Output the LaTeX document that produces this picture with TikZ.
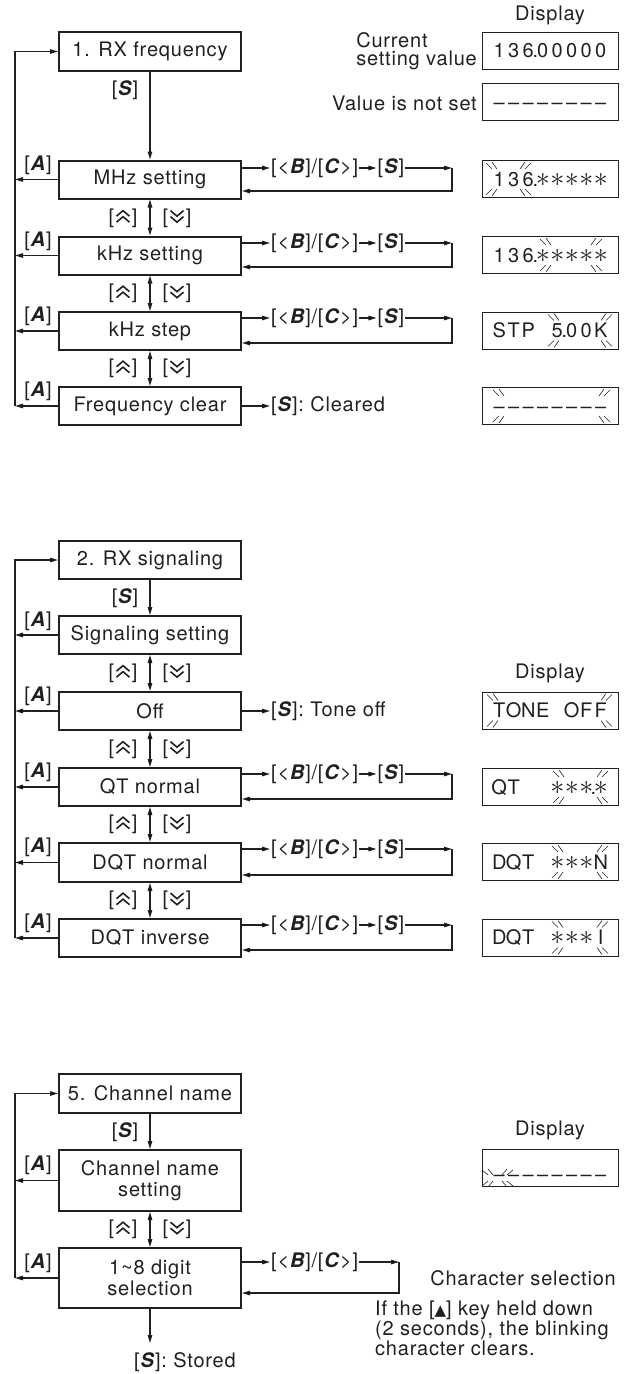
\documentclass[tikz,border=0pt]{standalone}
\usepackage{fontspec}
\setmainfont{TeX Gyre Heros}[LetterSpace=4]
\newfontfamily\symfont{DejaVu Sans}
\usetikzlibrary{arrows.meta}
\definecolor{ink}{RGB}{35,31,32}
\newcommand\K[1]{\textbf{\textit{#1}}}
\newcommand\cl[1]{\makebox[14.5pt]{#1}}
\newcommand\dt{\makebox[0pt]{.}}
\newcommand\sk{\cl{\scalebox{1.35}{$\ast$}}}
\newcommand\dsh{\cl{\textendash}}
\newcommand\chevu{\tikz[baseline=-1pt,x=1pt,y=1pt]\draw[ink,line width=1.6pt] (0,0)--(6.5,5.5)--(13,0) (0,6)--(6.5,11.5)--(13,6);}
\newcommand\chevd{\tikz[baseline=-1pt,x=1pt,y=1pt]\draw[ink,line width=1.6pt] (0,11.5)--(6.5,6)--(13,11.5) (0,5.5)--(6.5,0)--(13,5.5);}
\newcommand\upk{[\kern1.5pt\chevu\kern1.5pt]}
\newcommand\dnk{[\kern1.5pt\chevd\kern1.5pt]}
% blink marks: xl xr cy inner outer
\newcommand\blinkm[5]{%
  \draw[ink,line width=0.6pt]
   (#1,#3-#5)--(#1+6,#3-#4) (#1+6,#3-#5-1)--(#1+11,#3-#4)
   (#2-11,#3-#4)--(#2-6,#3-#5-1) (#2-6,#3-#4)--(#2,#3-#5)
   (#1,#3+#5)--(#1+6,#3+#4) (#1+6,#3+#5+1)--(#1+11,#3+#4)
   (#2-11,#3+#4)--(#2-6,#3+#5+1) (#2-6,#3+#4)--(#2,#3+#5);}
\tikzset{
  fbox/.style={draw=ink, line width=2pt, minimum width=182pt, minimum height=38pt, inner sep=0pt, align=center},
  dbox/.style={draw=ink, line width=0.9pt, minimum width=136pt, minimum height=37pt, inner sep=0pt, text height=14pt, text depth=0pt},
  lbl/.style={inner sep=1pt},
  arr/.style={draw=ink, line width=1.1pt, -{Triangle[length=8pt,width=4.5pt]}},
  darr/.style={draw=ink, line width=1.1pt, {Triangle[length=8pt,width=4.5pt]}-{Triangle[length=8pt,width=4.5pt]}},
}
% B/C row: node name, ytop, ybot
\newcommand\bcrow[3]{%
  \node[lbl,anchor=west] (bc#1) at (270,#2) {[<\K{B}]/[\K{C}>]};
  \node[lbl,anchor=west] (bs#1) at ([xshift=17pt]bc#1.east) {[\K{S}]};
  \coordinate (ct#1) at (452,#2);
  \coordinate (cb#1) at (452,#3);
  \draw[arr] (#1.east |- bc#1.west) -- (bc#1.west);
  \draw[arr] (bc#1.east) -- (bs#1.west);
  \draw[arr] (bs#1.east) -- (ct#1);
  \draw[arr] (ct#1) -- (cb#1) -- (#1.east |- cb#1);}
\begin{document}
\begin{tikzpicture}[x=1pt,y=-1pt,font=\fontsize{20}{21}\selectfont,text=ink]
\useasboundingbox (0,0) rectangle (633,1374);

%================ Section 1
\node[fbox,minimum height=39pt] (n1) at (150,51.5) {1. RX frequency};
\node[fbox] (n2) at (150,179.5) {MHz setting};
\node[fbox] (n3) at (150,255.5) {kHz setting};
\node[fbox] (n4) at (150,331) {kHz step};
\node[fbox] (n5) at (150,406) {Frequency clear};
\coordinate (L1) at (15,406);
\draw[arr] (L1) -- (L1 |- n1.west) -- (n1.west);
\foreach \n in {n2,n3,n4,n5} \draw[arr] (\n.west) -- (\n.west -| L1);
\node[lbl] (s1) at (125,90) {[\K{S}]};
\draw[arr] (n1.south) -- (n2.north);
\node[lbl] (a12) at (38,165) {[\K{A}]};
\node[lbl] (a13) at (38,241) {[\K{A}]};
\node[lbl] (a14) at (38,316) {[\K{A}]};
\node[lbl] (a15) at (38,391) {[\K{A}]};
\draw[darr] (n2.south) -- (n3.north);
\draw[darr] (n3.south) -- (n4.north);
\draw[darr] (n4.south) -- (n5.north);
\node[lbl] (u23) at (123,218) {\upk}; \node[lbl] (v23) at (177,218) {\dnk};
\node[lbl] (u34) at (123,293.5) {\upk}; \node[lbl] (v34) at (177,293.5) {\dnk};
\node[lbl] (u45) at (123,368.5) {\upk}; \node[lbl] (v45) at (177,368.5) {\dnk};
\bcrow{n2}{168}{191}
\bcrow{n3}{243}{267}
\bcrow{n4}{318}{343}
\node[lbl,anchor=west] (clr) at (270,406) {[\K{S}]: Cleared};
\draw[arr] (n5.east) -- (clr.west);

\node[lbl] (disp1) at (550,15) {Display};
\node[dbox] (d0) at (550,50.5) {\cl{1}\cl{3}\cl{6}\dt\cl{0}\cl{0}\cl{0}\cl{0}\cl{0}};
\node[lbl,anchor=east,align=left,font=\fontsize{20}{18}\selectfont] (cur) at (478,51.5) {Current\\setting value};
\node[dbox] (d1) at (550,102) {\dsh\dsh\dsh\dsh\dsh\dsh\dsh\dsh};
\node[lbl,anchor=east] (vns) at (478,103) {Value is not set};
\node[dbox] (d2) at (550,179) {\cl{1}\cl{3}\cl{6}\dt\sk\sk\sk\sk\sk};
\blinkm{486}{531}{179}{10}{16}
\node[dbox] (d3) at (550,255) {\cl{1}\cl{3}\cl{6}\dt\sk\sk\sk\sk\sk};
\blinkm{540}{602}{255}{10}{16}
\node[dbox] (d4) at (550,330.5) {\cl{S}\cl{T}\cl{P}\cl{}\cl{5}\dt\cl{0}\cl{0}\cl{K}};
\blinkm{548}{612}{330.5}{10}{16}
\node[dbox] (d5) at (550,406) {\dsh\dsh\dsh\dsh\dsh\dsh\dsh\dsh};
\blinkm{493}{610}{406}{10}{16}

%================ Section 2
\node[fbox] (m1) at (150,560) {2. RX signaling};
\node[fbox] (m2) at (150,635) {Signaling setting};
\node[fbox] (m3) at (150,711) {Off};
\node[fbox] (m4) at (150,787) {QT normal};
\node[fbox,minimum height=39pt] (m5) at (150,862.5) {DQT normal};
\node[fbox] (m6) at (150,938) {DQT inverse};
\coordinate (L2) at (15,938);
\draw[arr] (L2) -- (L2 |- m1.west) -- (m1.west);
\foreach \n in {m2,m3,m4,m5,m6} \draw[arr] (\n.west) -- (\n.west -| L2);
\node[lbl] (s2) at (125,598) {[\K{S}]};
\draw[arr] (m1.south) -- (m2.north);
\node[lbl] (a22) at (38,621) {[\K{A}]};
\node[lbl] (a23) at (38,696) {[\K{A}]};
\node[lbl] (a24) at (38,772) {[\K{A}]};
\node[lbl] (a25) at (38,847) {[\K{A}]};
\node[lbl] (a26) at (38,923) {[\K{A}]};
\draw[darr] (m2.south) -- (m3.north);
\draw[darr] (m3.south) -- (m4.north);
\draw[darr] (m4.south) -- (m5.north);
\draw[darr] (m5.south) -- (m6.north);
\node[lbl] (u2a) at (123,673) {\upk}; \node[lbl] (v2a) at (177,673) {\dnk};
\node[lbl] (u2b) at (123,749) {\upk}; \node[lbl] (v2b) at (177,749) {\dnk};
\node[lbl] (u2c) at (123,824.5) {\upk}; \node[lbl] (v2c) at (177,824.5) {\dnk};
\node[lbl] (u2d) at (123,900.5) {\upk}; \node[lbl] (v2d) at (177,900.5) {\dnk};
\node[lbl,anchor=west] (toff) at (270,711) {[\K{S}]: Tone off};
\draw[arr] (m3.east) -- (toff.west);
\bcrow{m4}{774}{799}
\bcrow{m5}{849}{875}
\bcrow{m6}{925}{950}

\node[lbl] (disp2) at (550,673) {Display};
\node[dbox] (dT) at (550,710.5) {\cl{T}\cl{O}\cl{N}\cl{E}\cl{}\cl{O}\cl{F}\cl{F}};
\blinkm{487}{612}{710.5}{10}{16}
\node[dbox] (dQ) at (550,787) {\cl{Q}\cl{T}\cl{}\cl{}\sk\sk\sk\dt\sk};
\blinkm{553}{608}{787}{10}{16}
\node[dbox] (dN) at (550,862) {\cl{D}\cl{Q}\cl{T}\cl{}\sk\sk\sk\cl{N}};
\blinkm{552}{608}{862}{10}{16}
\node[dbox] (dI) at (550,937.5) {\cl{D}\cl{Q}\cl{T}\cl{}\sk\sk\sk\cl{I}};
\blinkm{552}{608}{937.5}{10}{16}

%================ Section 3
\node[fbox,minimum height=39pt] (c1) at (150,1093.5) {5. Channel name};
\node[fbox,minimum height=61pt] (c2) at (150,1180.5) {Channel name\\setting};
\node[fbox,minimum height=60pt] (c3) at (150,1278) {1\textasciitilde 8 digit\\selection};
\coordinate (L3) at (15,1278);
\draw[arr] (L3) -- (L3 |- c1.west) -- (c1.west);
\foreach \n in {c2,c3} \draw[arr] (\n.west) -- (\n.west -| L3);
\node[lbl] (s3) at (125,1132) {[\K{S}]};
\draw[arr] (c1.south) -- (c2.north);
\node[lbl] (a32) at (38,1165) {[\K{A}]};
\node[lbl] (a33) at (38,1263) {[\K{A}]};
\draw[darr] (c2.south) -- (c3.north);
\node[lbl] (u3a) at (123,1229.5) {\upk}; \node[lbl] (v3a) at (177,1229.5) {\dnk};
\node[lbl,anchor=west] (bc3) at (270,1262) {[<\K{B}]/[\K{C}>]};
\coordinate (ct3) at (399,1262);
\coordinate (cb3) at (399,1293);
\draw[arr] (c3.east |- bc3.west) -- (bc3.west);
\draw[arr] (bc3.east) -- (ct3);
\draw[arr] (ct3) -- (cb3) -- (c3.east |- cb3);
\coordinate (st) at (150,1343);
\draw[arr] (c3.south) -- (st);
\node[lbl,anchor=west] (stored) at (133,1362) {[\K{S}]: Stored};

\node[lbl] (disp3) at (550,1130) {Display};
\node[dbox] (dc) at (550,1168) {};
\node[lbl] (dct) at (550,1178) {\dsh\dsh\dsh\dsh\dsh\dsh\dsh\dsh};
\blinkm{482}{513}{1178}{3}{8}
\node[lbl,anchor=east] (chs) at (617,1278) {Character selection};
\node[lbl,anchor=west,align=left,font=\fontsize{20}{16}\selectfont] (note) at (374,1328)
  {If the [{\symfont\fontsize{15}{15}\selectfont ▲}] key held down\\(2 seconds), the blinking\\character clears.};
\end{tikzpicture}
\end{document}
